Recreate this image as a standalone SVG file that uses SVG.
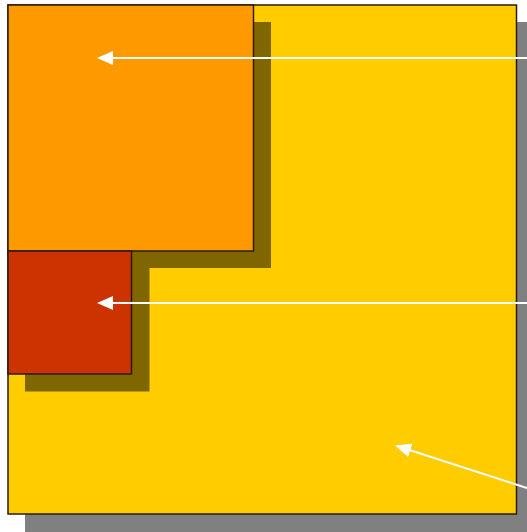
<svg xmlns="http://www.w3.org/2000/svg" width="527" height="532" viewBox="0 0 527 532">
<style>
.box{stroke:#2a1a10;stroke-width:1.5}
.conn{stroke:#ffffff;stroke-width:2;fill:none;marker-end:url(#ah)}
</style>
<defs>
<marker id="ah" markerWidth="8" markerHeight="7" refX="7" refY="3.5" orient="auto" markerUnits="strokeWidth">
<path d="M0,0 L8,3.5 L0,7 Z" fill="#ffffff"/>
</marker>
</defs>
<rect width="527" height="532" fill="#ffffff"/>
<g id="outer">
<rect x="25" y="22" width="502" height="510" fill="#808080"/>
<rect class="box" x="8" y="5" width="508.5" height="509" fill="#ffcc00"/>
</g>
<g id="middle">
<rect x="25" y="22" width="246" height="246" fill="#7f6600"/>
<rect class="box" x="8" y="5" width="245.5" height="246" fill="#ff9900"/>
</g>
<g id="inner">
<rect x="25" y="268" width="124.5" height="123.5" fill="#7f6600"/>
<rect class="box" x="8" y="251" width="123.5" height="123" fill="#cc3300"/>
</g>
<g id="connectors">
<line class="conn" x1="527" y1="58" x2="99" y2="58"/>
<line class="conn" x1="527" y1="303" x2="99" y2="303"/>
<line class="conn" x1="527" y1="488" x2="397" y2="446"/>
</g>
</svg>
